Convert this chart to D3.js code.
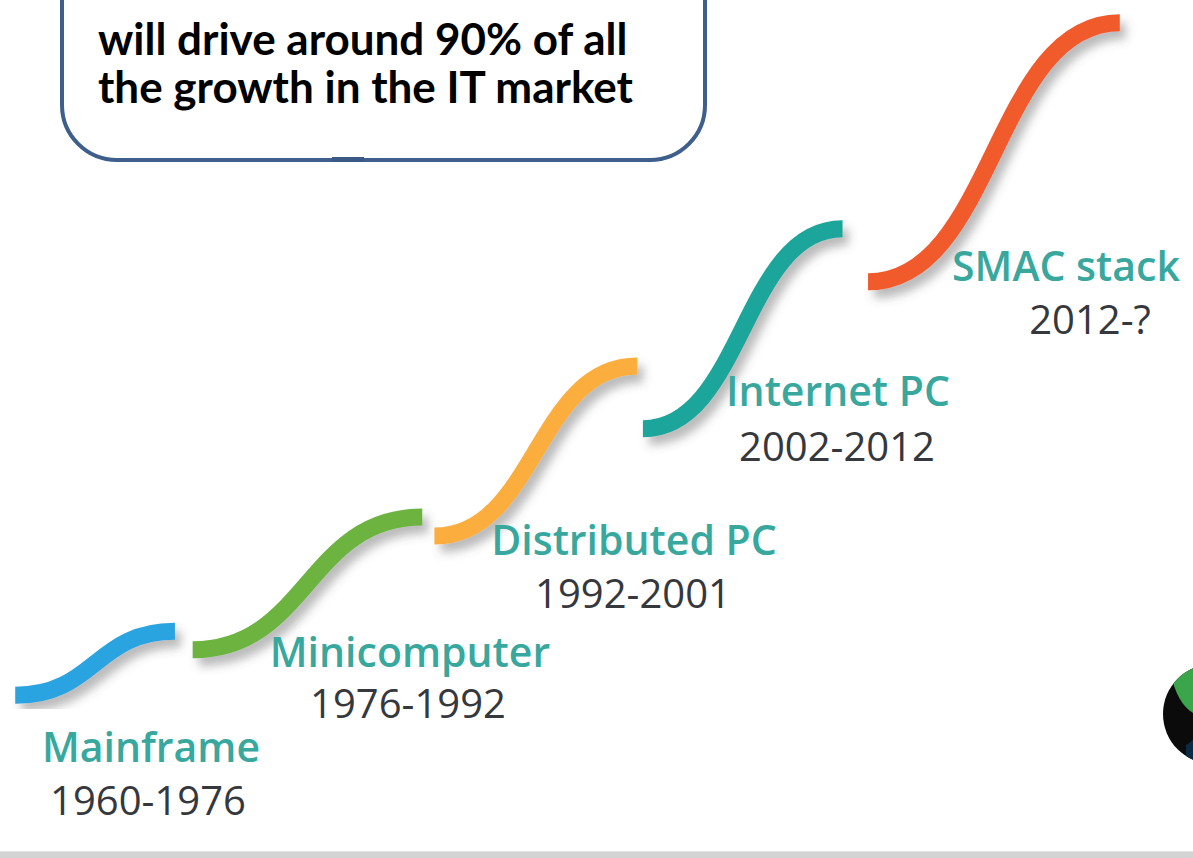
<!DOCTYPE html>
<html>
<head>
<meta charset="utf-8">
<script src="https://cdn.jsdelivr.net/npm/d3@7"></script>
<style>
  body { margin: 0; background: #fff; overflow: hidden; }
  #chart { width: 1193px; height: 858px; }
  svg { display: block; }
</style>
</head>
<body>
<div id="chart"></div>
<script>
// eras of computing and their S-curves (stage = relative time, level = growth)
const eras = ["Mainframe", "Minicomputer", "Distributed PC", "Internet PC", "SMAC stack"];
const periods = ["1960-1976", "1976-1992", "1992-2001", "2002-2012", "2012-?"];
const stageStart = [0.2, 16.2, 38.0, 56.8, 77.1];
const stageEnd = [14.6, 36.9, 56.3, 74.8, 99.8];
const levelStart = [0.7, 7.4, 24.1, 39.9, 61.5];
const levelEnd = [10.1, 26.9, 49.1, 69.3, 99.6];
const calloutLines = ["will drive around 90% of all", "the growth in the IT market"];

const eraColors = ["#2aa4e0", "#6cb33f", "#fbae3c", "#1ea59b", "#f15a2b"];

function drawChart() {
  const width = 1193;
  const height = 858;
  const chartDiv = d3.select("#chart");
  chartDiv.selectAll("*").remove();

  const svg = chartDiv.append("svg").attr("width", width).attr("height", height);

  const defs = svg.append("defs");
  const shadow = defs.append("filter")
    .attr("id", "shadow")
    .attr("x", "-20%").attr("y", "-20%")
    .attr("width", "140%").attr("height", "140%");
  shadow.append("feDropShadow")
    .attr("dx", 6).attr("dy", 8)
    .attr("stdDeviation", 5)
    .attr("flood-color", "#555")
    .attr("flood-opacity", 0.4);

  const xScale = d3.scaleLinear().domain([0, 100]).range([13, 1122]);
  const yScale = d3.scaleLinear().domain([0, 100]).range([700, 20]);
  const color = d3.scaleOrdinal(eras, eraColors);

  const data = eras.map((name, i) => ({
    name: name,
    period: periods[i],
    source: [stageStart[i], levelStart[i]],
    target: [stageEnd[i], levelEnd[i]]
  }));

  const link = d3.linkHorizontal()
    .source((d) => d.source)
    .target((d) => d.target)
    .x((p) => xScale(p[0]))
    .y((p) => yScale(p[1]));

  // bottom strip
  svg.append("rect")
    .attr("x", 0).attr("y", 851)
    .attr("width", width).attr("height", 7)
    .style("fill", "#d3d3d3");
  svg.append("line")
    .attr("x1", 0).attr("x2", width)
    .attr("y1", 851.5).attr("y2", 851.5)
    .style("stroke", "#e6e6e6");

  // partial logo at right edge
  const logo = svg.append("g");
  defs.append("clipPath").attr("id", "logoClip")
    .append("circle").attr("cx", 1213).attr("cy", 714).attr("r", 50);
  logo.append("circle")
    .attr("cx", 1213).attr("cy", 714).attr("r", 50)
    .style("fill", "#0b0b0b");
  logo.append("path")
    .attr("clip-path", "url(#logoClip)")
    .attr("d", "M1170,672 C1178,664 1193,662 1200,662 L1200,716 C1186,712 1176,698 1170,672 Z")
    .style("fill", "#3aa54a");
  logo.append("path")
    .attr("clip-path", "url(#logoClip)")
    .attr("d", "M1186,745 C1192,742 1196,735 1200,730 L1200,765 L1186,765 Z")
    .style("fill", "#0d2a44");

  // S-curves
  svg.append("g")
    .selectAll("path")
    .data(data)
    .enter()
    .append("path")
    .attr("class", "curve")
    .attr("d", link)
    .attr("filter", "url(#shadow)")
    .style("fill", "none")
    .style("stroke", (d) => color(d.name))
    .style("stroke-width", 17)
    .style("stroke-linecap", "butt");

  // labels
  const nameAt = [[151, 762], [410, 667], [634, 555], [838, 406], [1066, 281]];
  const periodAt = [[148, 815], [408, 718], [633, 608], [837, 461], [1090, 334]];

  const labels = svg.append("g").selectAll("g").data(data).enter().append("g");
  labels.append("text")
    .attr("x", (d, i) => nameAt[i][0])
    .attr("y", (d, i) => nameAt[i][1])
    .style("text-anchor", "middle")
    .style("font-family", "'Open Sans', sans-serif")
    .style("font-weight", 600)
    .style("font-size", "41px")
    .style("fill", "#38a89e")
    .text((d) => d.name);
  labels.append("text")
    .attr("x", (d, i) => periodAt[i][0])
    .attr("y", (d, i) => periodAt[i][1])
    .style("text-anchor", "middle")
    .style("font-family", "'Open Sans', sans-serif")
    .style("font-weight", 400)
    .style("font-size", "40px")
    .style("fill", "#35383d")
    .text((d) => d.period);

  // callout box (top cut off by the page)
  const callout = svg.append("g");
  callout.append("rect")
    .attr("x", 62).attr("y", -80)
    .attr("width", 643).attr("height", 240)
    .attr("rx", 55).attr("ry", 55)
    .style("fill", "#fff")
    .style("stroke", "#3e5f8b")
    .style("stroke-width", 4);
  callout.append("rect")
    .attr("x", 332).attr("y", 157)
    .attr("width", 32).attr("height", 5)
    .style("fill", "#3a5a86");
  callout.selectAll("text")
    .data(calloutLines)
    .enter()
    .append("text")
    .attr("x", 98)
    .attr("y", (d, i) => 55 + i * 48)
    .style("font-family", "Lato, sans-serif")
    .style("font-weight", 700)
    .style("font-size", "44px")
    .style("fill", "#000")
    .text((d) => d);
}

drawChart();
</script>
</body>
</html>
